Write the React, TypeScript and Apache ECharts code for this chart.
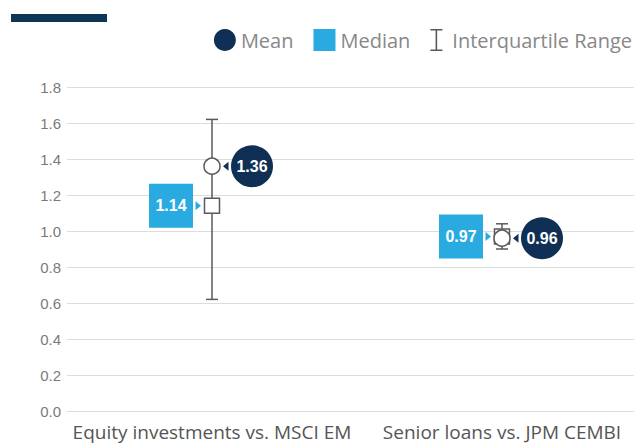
import React, { useEffect, useRef } from "react";
import * as echarts from "echarts";

const categories = ["Equity investments vs. MSCI EM", "Senior loans vs. JPM CEMBI"];
const meanValues = [1.36, 0.96];
const medianValues = [1.14, 0.97];
const iqrLow = [0.62, 0.9];
const iqrHigh = [1.62, 1.04];
const yMin = 0;
const yMax = 1.8;
const yInterval = 0.2;

const NAVY = "#0f2f55";
const BLUE = "#29abe2";
const GREY = "#5a5a5a";
const IBEAM = "path://M0,0 H12 V1.6 H6.8 V20.4 H12 V22 H0 V20.4 H5.2 V1.6 H0 Z";

export default function App() {
  const ref = useRef<HTMLDivElement>(null);
  useEffect(() => {
    if (!ref.current) return;
    const chart = echarts.init(ref.current, undefined, { renderer: "svg" });
    const option: any = {
      animation: false,
      backgroundColor: "#ffffff",
      graphic: [
        { type: "rect", left: 11, top: 14, shape: { width: 96, height: 8 }, style: { fill: "#0d3557" } },
      ],
      legend: {
        right: 2,
        top: 29,
        padding: 0,
        itemWidth: 22,
        itemHeight: 22,
        itemGap: 20,
        textStyle: { fontSize: 20, color: "#888", fontFamily: "Open Sans" },
        data: [
          { name: "Mean", icon: "circle", itemStyle: { color: NAVY } },
          { name: "Median", icon: "rect", itemStyle: { color: BLUE } },
          { name: "Interquartile Range", icon: IBEAM, itemStyle: { color: GREY } },
        ],
      },
      grid: { left: 67, right: -13, top: 87, bottom: 32, containLabel: false, outerBoundsMode: "none" },
      xAxis: {
        type: "category",
        data: categories,
        axisLine: { show: true, lineStyle: { color: "#dcdcdc" } },
        axisTick: { show: false },
        axisLabel: { interval: 0, fontSize: 19, color: "#555", fontFamily: "Open Sans", margin: 11, hideOverlap: false },
      },
      yAxis: {
        type: "value",
        min: yMin,
        max: yMax,
        interval: yInterval,
        axisLine: { show: false },
        axisTick: { show: false },
        splitLine: { lineStyle: { color: "#dcdcdc", width: 1 } },
        axisLabel: {
          fontSize: 15,
          color: "#7a7a7a",
          fontFamily: "Liberation Sans",
          margin: 6,
          formatter: (v: number) => v.toFixed(1),
        },
      },
      series: [
        {
          name: "Interquartile Range",
          type: "custom",
          itemStyle: { color: GREY },
          encode: { x: 0, y: [1, 2] },
          data: categories.map((_, i) => [i, iqrLow[i], iqrHigh[i]]),
          renderItem: (params: any, api: any) => {
            const x = api.value(0);
            const lo = api.coord([x, api.value(1)]);
            const hi = api.coord([x, api.value(2)]);
            const st = { stroke: GREY, lineWidth: 1.5 };
            return {
              type: "group",
              children: [
                { type: "line", shape: { x1: lo[0], y1: lo[1], x2: hi[0], y2: hi[1] }, style: st },
                { type: "line", shape: { x1: hi[0] - 6, y1: hi[1], x2: hi[0] + 6, y2: hi[1] }, style: st },
                { type: "line", shape: { x1: lo[0] - 6, y1: lo[1], x2: lo[0] + 6, y2: lo[1] }, style: st },
              ],
            };
          },
        },
        {
          name: "Median",
          type: "custom",
          itemStyle: { color: BLUE },
          encode: { x: 0, y: 1 },
          data: categories.map((_, i) => [i, medianValues[i]]),
          renderItem: (params: any, api: any) => {
            const v = api.value(1);
            const p = api.coord([api.value(0), v]);
            const cx = p[0] - 41;
            return {
              type: "group",
              children: [
                { type: "rect", shape: { x: cx - 22, y: p[1] - 22, width: 44, height: 44 }, style: { fill: BLUE } },
                {
                  type: "polygon",
                  shape: { points: [[p[0] - 11, p[1]], [p[0] - 16.5, p[1] - 4.5], [p[0] - 16.5, p[1] + 4.5]] },
                  style: { fill: BLUE },
                },
                {
                  type: "text",
                  x: cx,
                  y: p[1],
                  style: {
                    text: v.toFixed(2),
                    fill: "#fff",
                    fontSize: 16,
                    fontWeight: "bold",
                    fontFamily: "Liberation Sans",
                    align: "center",
                    verticalAlign: "middle",
                  },
                },
                {
                  type: "rect",
                  shape: { x: p[0] - 7.5, y: p[1] - 7.5, width: 15, height: 15 },
                  style: { fill: "#fff", stroke: GREY, lineWidth: 1.5 },
                },
              ],
            };
          },
        },
        {
          name: "Mean",
          type: "custom",
          itemStyle: { color: NAVY },
          encode: { x: 0, y: 1 },
          data: categories.map((_, i) => [i, meanValues[i]]),
          renderItem: (params: any, api: any) => {
            const v = api.value(1);
            const p = api.coord([api.value(0), v]);
            const cx = p[0] + 40;
            return {
              type: "group",
              children: [
                {
                  type: "polygon",
                  shape: { points: [[p[0] + 11, p[1]], [p[0] + 16.5, p[1] - 4.5], [p[0] + 16.5, p[1] + 4.5]] },
                  style: { fill: NAVY },
                },
                { type: "circle", shape: { cx, cy: p[1], r: 21 }, style: { fill: NAVY } },
                {
                  type: "text",
                  x: cx,
                  y: p[1],
                  style: {
                    text: v.toFixed(2),
                    fill: "#fff",
                    fontSize: 16,
                    fontWeight: "bold",
                    fontFamily: "Liberation Sans",
                    align: "center",
                    verticalAlign: "middle",
                  },
                },
                {
                  type: "circle",
                  shape: { cx: p[0], cy: p[1], r: 8 },
                  style: { fill: "#fff", stroke: GREY, lineWidth: 1.5 },
                },
              ],
            };
          },
        },
      ],
    };
    chart.setOption(option);
    return () => chart.dispose();
  }, []);
  return (
    <div
      ref={ref}
      style={{ position: "fixed", left: 0, top: 0, width: 634, height: 443 }}
    />
  );
}
